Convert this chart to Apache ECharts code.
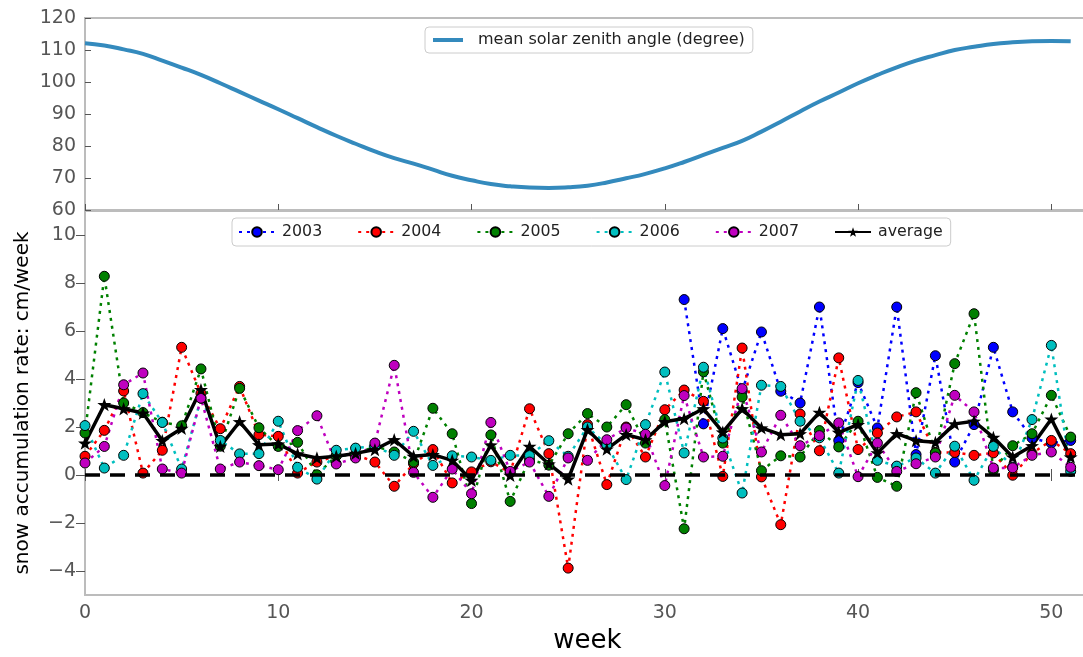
<!DOCTYPE html>
<html>
<head>
<meta charset="utf-8">
<script src="https://cdn.jsdelivr.net/npm/echarts@6/dist/echarts.min.js"></script>
<style>
  html, body { margin: 0; padding: 0; background: #fff; }
  #chart { width: 1083px; height: 657px; }
</style>
</head>
<body>
<div id="chart"></div>
<script>
const weeks = [0, 1, 2, 3, 4, 5, 6, 7, 8, 9, 10, 11, 12, 13, 14, 15, 16, 17, 18, 19, 20, 21, 22, 23, 24, 25,
  26, 27, 28, 29, 30, 31, 32, 33, 34, 35, 36, 37, 38, 39, 40, 41, 42, 43, 44, 45, 46, 47, 48, 49, 50, 51]

const weekTicks = [0, 10, 20, 30, 40, 50]
const zenithTicks = [60, 70, 80, 90, 100, 110, 120]
const snowTicks = [-4, -2, 0, 2, 4, 6, 8, 10]

// top panel
const zenith = [112.1, 111.4, 110.2, 108.8, 106.7, 104.5, 102.2, 99.6, 96.9, 94.2, 91.5, 88.7, 85.9, 83.2,
  80.7, 78.3, 76.2, 74.5, 72.6, 70.7, 69.3, 68.1, 67.4, 67.0, 66.9, 67.1, 67.6, 68.6, 69.9, 71.3, 73.0,
  75.0, 77.2, 79.4, 81.6, 84.5, 87.6, 90.8, 93.9, 96.7, 99.6, 102.2, 104.6, 106.7, 108.4, 110.0, 111.0,
  111.9, 112.4, 112.7, 112.8, 112.7]

// bottom panel, cm/week (2003 only from week 31)
const y2003 = [null, null, null, null, null, null, null, null, null, null, null, null, null, null, null, null,
  null, null, null, null, null, null, null, null, null, null, null, null, null, null, null,
  7.31, 2.13, 6.1, 3.5, 5.96, 3.49, 3.0, 7.0, 1.44, 3.85, 1.96, 7.0, 0.85, 4.97, 0.54, 2.1, 5.32, 2.63,
  1.54, 1.33, 1.44]
const y2004 = [0.78, 1.86, 3.5, 0.08, 1.03, 5.32, 3.4, 1.93, 3.69, 1.68, 1.61, 0.08, 0.54, 0.8, 0.85, 0.54,
  -0.47, 0.47, 1.06, -0.33, 0.13, 0.55, 0.1, 2.76, 0.89, -3.88, 2.1, -0.4, 2.0, 0.75, 2.72, 3.54, 3.07,
  -0.06, 5.29, -0.08, -2.07, 2.54, 1.01, 4.88, 1.06, 1.75, 2.42, 2.63, 0.94, 0.94, 0.82, 0.92, -0.01, 0.9,
  1.44, 0.89]
const y2005 = [1.75, 8.28, 3.0, 2.6, 2.2, 2.05, 4.42, 1.2, 3.61, 1.97, 1.19, 1.36, 0.01, 0.8, 0.85, 1.2, 0.96,
  0.54, 2.78, 1.72, -1.19, 1.67, -1.1, 0.65, 0.41, 1.72, 2.56, 2.0, 2.93, 1.33, 2.31, -2.24, 4.3, 1.33,
  3.25, 0.18, 0.8, 0.75, 1.85, 1.17, 2.24, -0.1, -0.47, 3.43, 0.92, 4.64, 6.72, 0.2, 1.22, 1.72, 3.32, 1.58]
const y2006 = [2.06, 0.29, 0.82, 3.39, 2.19, 0.25, 3.2, 1.44, 0.88, 0.89, 2.24, 0.32, -0.17, 1.03, 1.12, 1.2,
  0.82, 1.82, 0.4, 0.8, 0.75, 0.61, 0.82, 0.81, 1.43, 0.78, 2.0, 1.25, -0.19, 2.1, 4.29, 0.92, 4.49, 1.54,
  -0.75, 3.74, 3.69, 2.24, 1.55, 0.08, 3.94, 0.61, 0.37, 0.71, 0.08, 1.2, -0.22, 1.19, 0.33, 2.31, 5.4, 0.15]
const y2007 = [0.5, 1.19, 3.76, 4.25, 0.25, 0.08, 3.2, 0.25, 0.54, 0.39, 0.22, 1.85, 2.47, 0.46, 0.71, 1.33,
  4.57, 0.11, -0.93, 0.25, -0.78, 2.19, 0.15, 0.54, -0.89, 0.71, 0.61, 1.47, 1.96, 1.7, -0.44, 3.31, 0.75,
  0.78, 3.6, 0.96, 2.49, 1.22, 1.64, 2.17, -0.07, 1.33, 0.15, 0.47, 0.75, 3.32, 2.63, 0.29, 0.3, 0.82, 0.96,
  0.32]
const average = [1.33, 2.93, 2.76, 2.58, 1.43, 1.94, 3.56, 1.19, 2.22, 1.26, 1.29, 0.88, 0.71, 0.78, 0.9, 1.06,
  1.47, 0.78, 0.85, 0.61, -0.22, 1.25, -0.01, 1.19, 0.46, -0.17, 1.89, 1.08, 1.68, 1.47, 2.22, 2.35, 2.76,
  1.79, 2.76, 1.96, 1.68, 1.72, 2.61, 1.78, 2.1, 0.92, 1.72, 1.43, 1.36, 2.13, 2.24, 1.57, 0.75, 1.22, 2.33,
  0.75]

const FONT = 'DejaVu Sans'
const STAR = 'path://M0,-10L2.35,-3.24L9.51,-3.09L3.8,1.24L5.88,8.09L0,4L-5.88,8.09L-3.8,1.24L-9.51,-3.09L-2.35,-3.24Z'
const minus = v => (v < 0 ? '\u2212' + Math.abs(v) : String(v))
const pairs = vals => weeks.map((w, i) => [w, vals[i]]).filter(p => p[1] !== null)

const yearSeries = (name, color, vals) => ({
  name,
  type: 'line',
  xAxisIndex: 1,
  yAxisIndex: 1,
  data: pairs(vals),
  symbol: 'circle',
  symbolSize: 10,
  itemStyle: { color, borderColor: '#000', borderWidth: 1 },
  lineStyle: { color, width: 2.5, type: [3, 5] },
  emphasis: { disabled: true },
})

const chart = echarts.init(document.getElementById('chart'))

const tickStyle = { color: '#555', width: 1 }
// plot area runs a little past the right edge of the window, like the reference
const frame = {
  show: true, borderColor: '#bcbcbc', borderWidth: 2, backgroundColor: 'transparent',
  containLabel: false, outerBoundsMode: 'none',
}

const series = [
  {
    name: 'mean solar zenith angle (degree)',
    type: 'line',
    xAxisIndex: 0,
    yAxisIndex: 0,
    data: pairs(zenith),
    smooth: true,
    symbol: 'none',
    lineStyle: { color: '#348ABD', width: 4 },
    itemStyle: { color: '#348ABD' },
  },
  yearSeries('2003', '#0000ff', y2003),
  yearSeries('2004', '#ff0000', y2004),
  yearSeries('2005', '#008000', y2005),
  yearSeries('2006', '#00bfbf', y2006),
  yearSeries('2007', '#bf00bf', y2007),
  {
    name: 'average',
    type: 'line',
    xAxisIndex: 1,
    yAxisIndex: 1,
    data: pairs(average),
    symbol: STAR,
    symbolSize: 14,
    symbolKeepAspect: true,
    itemStyle: { color: '#000' },
    lineStyle: { color: '#000', width: 3.5 },
    emphasis: { disabled: true },
  },
]

// dashed zero line goes under the dots
series[1].markLine = {
  silent: true,
  symbol: 'none',
  label: { show: false },
  lineStyle: { color: '#000', width: 3.5, type: [15, 10] },
  data: [{ yAxis: 0 }],
}

chart.setOption({
  animation: false,
  backgroundColor: '#fff',
  textStyle: { fontFamily: FONT },
  grid: [
    { left: 85, top: 18, width: 1005, height: 192, ...frame },
    { left: 85, top: 211, width: 1005, height: 384, ...frame },
  ],
  legend: [
    {
      data: ['mean solar zenith angle (degree)'],
      left: 425, top: 27,
      padding: [5, 8, 5, 8],
      icon: 'rect',
      itemWidth: 30, itemHeight: 4,
      textStyle: { fontSize: 16, color: '#222', fontFamily: FONT, padding: [0, 0, 0, 10] },
      borderColor: '#ccc', borderWidth: 1, borderRadius: 4, backgroundColor: '#fff',
      selectedMode: false,
    },
    {
      data: ['2003', '2004', '2005', '2006', '2007', 'average'],
      left: 232, top: 218,
      padding: [6, 8, 6, 6],
      itemWidth: 36, itemHeight: 12, itemGap: 35,
      textStyle: { fontSize: 15.8, color: '#222', fontFamily: FONT, padding: [0, 0, 0, 2] },
      borderColor: '#ccc', borderWidth: 1, borderRadius: 4, backgroundColor: '#fff',
      selectedMode: false,
    },
  ],
  xAxis: [
    {
      gridIndex: 0, type: 'value', min: 0, max: 52,
      axisLine: { show: false },
      axisTick: { inside: true, length: 6, lineStyle: tickStyle, customValues: weekTicks },
      axisLabel: { show: false },
      splitLine: { show: false },
    },
    {
      gridIndex: 1, type: 'value', min: 0, max: 52,
      axisLine: { show: false },
      axisTick: { inside: true, length: 6, lineStyle: tickStyle, customValues: weekTicks },
      axisLabel: { fontSize: 19, color: '#555', margin: 9, customValues: weekTicks },
      splitLine: { show: false },
      name: 'week', nameLocation: 'middle', nameGap: 26,
      nameTextStyle: { fontSize: 26, color: '#000', fontFamily: FONT },
    },
    {
      gridIndex: 1, type: 'value', min: 0, max: 52, position: 'top',
      axisLine: { show: false },
      axisTick: { inside: true, length: 6, lineStyle: tickStyle, customValues: weekTicks },
      axisLabel: { show: false },
      splitLine: { show: false },
    },
  ],
  yAxis: [
    {
      gridIndex: 0, type: 'value', min: 60, max: 120,
      axisLine: { show: false },
      axisTick: { inside: true, length: 6, lineStyle: tickStyle, customValues: zenithTicks },
      axisLabel: { fontSize: 19, color: '#555', margin: 9, customValues: zenithTicks },
      splitLine: { show: false },
    },
    {
      gridIndex: 1, type: 'value', min: -5, max: 11,
      axisLine: { show: false },
      axisTick: { inside: false, length: 6, lineStyle: tickStyle, customValues: snowTicks },
      axisLabel: { fontSize: 19, color: '#555', margin: 9, customValues: snowTicks, formatter: minus },
      splitLine: { show: false },
      name: 'snow accumulation rate: cm/week', nameLocation: 'middle', nameGap: 52,
      nameTextStyle: { fontSize: 20, color: '#000', fontFamily: FONT },
    },
    {
      gridIndex: 1, type: 'value', min: -5, max: 11, position: 'right',
      axisLine: { show: false },
      axisTick: { inside: true, length: 9, lineStyle: tickStyle, customValues: snowTicks },
      axisLabel: { show: false },
      splitLine: { show: false },
    },
  ],
  series,
})
</script>
</body>
</html>
